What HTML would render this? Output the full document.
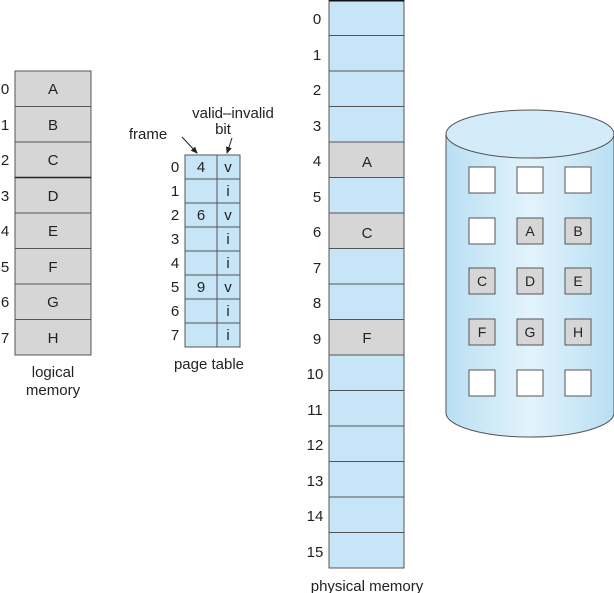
<!DOCTYPE html>
<html><head><meta charset="utf-8"><style>body{margin:0;background:#fff}svg{display:block}text{font-family:"Liberation Sans",sans-serif;fill:#222}</style></head><body>
<svg width="614" height="593" viewBox="0 0 614 593" xmlns="http://www.w3.org/2000/svg">
<defs>
<linearGradient id="cyl" x1="0" x2="1" y1="0" y2="0">
<stop offset="0" stop-color="#b9dff3"/><stop offset="0.5" stop-color="#e3f3fc"/><stop offset="1" stop-color="#b9dff3"/></linearGradient>
<marker id="ar" markerWidth="8" markerHeight="8" refX="6" refY="4" orient="auto"><path d="M0,1 L7,4 L0,7 z" fill="#222"/></marker>
</defs>
<g font-size="15" text-anchor="middle">
<g stroke="#555" stroke-width="1" fill="#d6d6d6">
<rect x="15" y="71" width="76" height="35.5"/><rect x="15" y="106.5" width="76" height="35.5"/><rect x="15" y="142" width="76" height="35.5"/><rect x="15" y="177.5" width="76" height="35.5"/><rect x="15" y="213" width="76" height="35.5"/><rect x="15" y="248.5" width="76" height="35.5"/><rect x="15" y="284" width="76" height="35.5"/><rect x="15" y="319.5" width="76" height="35.5"/>
</g>
<line x1="15" y1="177.5" x2="91" y2="177.5" stroke="#222" stroke-width="1.5"/>
<text x="53" y="94">A</text><text x="53" y="130">B</text><text x="53" y="165">C</text><text x="53" y="201">D</text><text x="53" y="236">E</text><text x="53" y="272">F</text><text x="53" y="307">G</text><text x="53" y="343">H</text>
<text x="5" y="94">0</text><text x="5" y="130">1</text><text x="5" y="165">2</text><text x="5" y="201">3</text><text x="5" y="236">4</text><text x="5" y="272">5</text><text x="5" y="307">6</text><text x="5" y="343">7</text>
<text x="53" y="377">logical</text><text x="53" y="395">memory</text>
</g>
<g font-size="15" text-anchor="middle">
<g stroke="#555" fill="#c6e6f7">
<rect x="185" y="155" width="32" height="24"/><rect x="217" y="155" width="23" height="24"/>
<rect x="185" y="179" width="32" height="24"/><rect x="217" y="179" width="23" height="24"/>
<rect x="185" y="203" width="32" height="24"/><rect x="217" y="203" width="23" height="24"/>
<rect x="185" y="227" width="32" height="24"/><rect x="217" y="227" width="23" height="24"/>
<rect x="185" y="251" width="32" height="24"/><rect x="217" y="251" width="23" height="24"/>
<rect x="185" y="275" width="32" height="24"/><rect x="217" y="275" width="23" height="24"/>
<rect x="185" y="299" width="32" height="24"/><rect x="217" y="299" width="23" height="24"/>
<rect x="185" y="323" width="32" height="24"/><rect x="217" y="323" width="23" height="24"/>
</g>
<text x="201" y="172">4</text><text x="201" y="220">6</text><text x="201" y="292">9</text>
<text x="228" y="172">v</text><text x="228" y="196">i</text><text x="228" y="220">v</text><text x="228" y="244">i</text><text x="228" y="268">i</text><text x="228" y="292">v</text><text x="228" y="316">i</text><text x="228" y="340">i</text>
<text x="175" y="172">0</text><text x="175" y="196">1</text><text x="175" y="220">2</text><text x="175" y="244">3</text><text x="175" y="268">4</text><text x="175" y="292">5</text><text x="175" y="316">6</text><text x="175" y="340">7</text>
<text x="209" y="369">page table</text>
<text x="148" y="139">frame</text>
<text x="233" y="118">valid–invalid</text><text x="223" y="134">bit</text>
</g>
<line x1="182" y1="137" x2="197" y2="153" stroke="#222" marker-end="url(#ar)"/>
<line x1="232" y1="138" x2="227" y2="153" stroke="#222" marker-end="url(#ar)"/>
<g stroke="#555" fill="#c6e6f7">
<rect x="329" y="0" width="75" height="568"/>
</g>
<line x1="329" y1="0.5" x2="404" y2="0.5" stroke="#111" stroke-width="2"/>
<g fill="#d6d6d6" stroke="#555"><rect x="329" y="142" width="75" height="35.5"/><rect x="329" y="213" width="75" height="35.5"/><rect x="329" y="319.5" width="75" height="35.5"/></g>
<g stroke="#555">
<line x1="329" y1="35.5" x2="404" y2="35.5"/><line x1="329" y1="71" x2="404" y2="71"/><line x1="329" y1="106.5" x2="404" y2="106.5"/><line x1="329" y1="177.5" x2="404" y2="177.5"/><line x1="329" y1="248.5" x2="404" y2="248.5"/><line x1="329" y1="284" x2="404" y2="284"/><line x1="329" y1="390.5" x2="404" y2="390.5"/><line x1="329" y1="426" x2="404" y2="426"/><line x1="329" y1="461.5" x2="404" y2="461.5"/><line x1="329" y1="497" x2="404" y2="497"/><line x1="329" y1="532.5" x2="404" y2="532.5"/>
</g>
<g font-size="15" text-anchor="middle">
<text x="367" y="167">A</text><text x="367" y="238">C</text><text x="367" y="343">F</text>
<text x="317" y="24">0</text><text x="317" y="60">1</text><text x="317" y="95">2</text><text x="317" y="131">3</text><text x="317" y="166">4</text><text x="317" y="202">5</text><text x="317" y="237">6</text><text x="317" y="273">7</text><text x="317" y="308">8</text><text x="317" y="344">9</text><text x="315" y="379">10</text><text x="315" y="415">11</text><text x="315" y="450">12</text><text x="315" y="486">13</text><text x="315" y="521">14</text><text x="315" y="557">15</text>
<text x="367" y="591">physical memory</text>
</g>
<path d="M446,134 L446,413 A84,24 0 0 0 614,413 L614,134 Z" fill="url(#cyl)" stroke="#555"/>
<ellipse cx="530" cy="134" rx="84" ry="24" fill="#d4ecf9" stroke="#555"/>
<g stroke="#555" fill="#fff">
<rect x="469" y="167" width="26" height="26"/><rect x="517" y="167" width="26" height="26"/><rect x="565" y="167" width="26" height="26"/>
<rect x="469" y="218" width="26" height="26"/>
<rect x="469" y="370" width="26" height="26"/><rect x="517" y="370" width="26" height="26"/><rect x="565" y="370" width="26" height="26"/>
</g>
<g stroke="#555" fill="#d6d6d6">
<rect x="517" y="218" width="26" height="26"/><rect x="565" y="218" width="26" height="26"/>
<rect x="469" y="268" width="26" height="26"/><rect x="517" y="268" width="26" height="26"/><rect x="565" y="268" width="26" height="26"/>
<rect x="469" y="319" width="26" height="26"/><rect x="517" y="319" width="26" height="26"/><rect x="565" y="319" width="26" height="26"/>
</g>
<g font-size="14" text-anchor="middle">
<text x="530" y="236">A</text><text x="578" y="236">B</text>
<text x="482" y="286">C</text><text x="530" y="286">D</text><text x="578" y="286">E</text>
<text x="482" y="337">F</text><text x="530" y="337">G</text><text x="578" y="337">H</text>
</g>
</svg>
</body></html>
